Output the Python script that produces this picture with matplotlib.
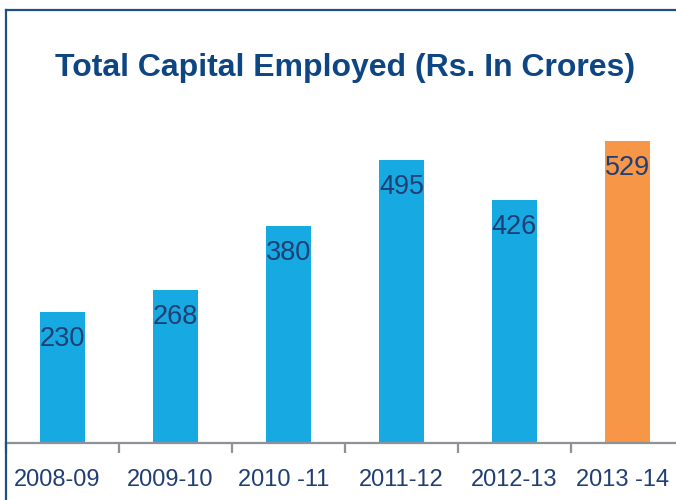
import matplotlib.pyplot as plt
from matplotlib.lines import Line2D
from matplotlib.transforms import ScaledTranslation
import numpy as np

years = ['2008-09', '2009-10', '2010 -11', '2011-12', '2012-13', '2013 -14']
capital = [230, 268, 380, 495, 426, 529]
bar_colors = ['#17A9E1'] * 5 + ['#F79646']

W, H = 676, 500
fig = plt.figure(figsize=(W / 100, H / 100), dpi=100)
plt.rcParams['font.family'] = ['Liberation Sans', 'DejaVu Sans']

# axes in pixel terms: baseline at y=443, category width 113 px starting x=6
ymax = 600
px_per_unit = 302 / 529
ax_h = ymax * px_per_unit
ax = fig.add_axes([6 / W, (H - 443) / H, 113 * 6 / W, ax_h / H])
ax.set_xlim(0, 6)
ax.set_ylim(0, ymax)

x = np.arange(len(years)) + 0.5
bars = ax.bar(x, capital, width=0.4, color=bar_colors)

for xi, v in zip(x, capital):
    ax.annotate(str(v), (xi, v), xytext=(0, -10), textcoords='offset points',
                ha='center', va='top', fontsize=19.5, color='#1F3F74')

for s in ['top', 'right', 'left']:
    ax.spines[s].set_visible(False)
ax.spines['bottom'].set_color('#8E9196')
ax.spines['bottom'].set_linewidth(1.6)
ax.set_yticks([])
ax.set_xticks(np.arange(0, 7))
ax.set_xticklabels([])
ax.set_xticks(x, minor=True)
ax.set_xticklabels(years, minor=True, fontsize=17, color='#1F3F74')
ax.tick_params(axis='x', which='major', length=7, width=1.6, color='#8E9196', direction='out')
ax.tick_params(axis='x', which='minor', length=0, pad=19)

# small horizontal nudges of the category labels (px), as in the original
nudge = [-5, -5, -5, 0, 0, -5]
for lbl, dx in zip(ax.get_xticklabels(minor=True), nudge):
    lbl.set_transform(lbl.get_transform() + ScaledTranslation(dx / 100, 0, fig.dpi_scale_trans))

fig.text(0.51, 0.864, 'Total Capital Employed (Rs. In Crores)', ha='center', va='center',
         fontsize=23, fontweight='bold', color='#0E4583')

# frame lines (left and top)
fig.add_artist(Line2D([6 / W, 6 / W], [0, 1 - 10 / H], transform=fig.transFigure,
                      color='#1F4E8C', linewidth=1.6))
fig.add_artist(Line2D([6 / W, 1], [1 - 10 / H, 1 - 10 / H], transform=fig.transFigure,
                      color='#1F4E8C', linewidth=1.6))

fig.savefig('out.png', dpi=100)
